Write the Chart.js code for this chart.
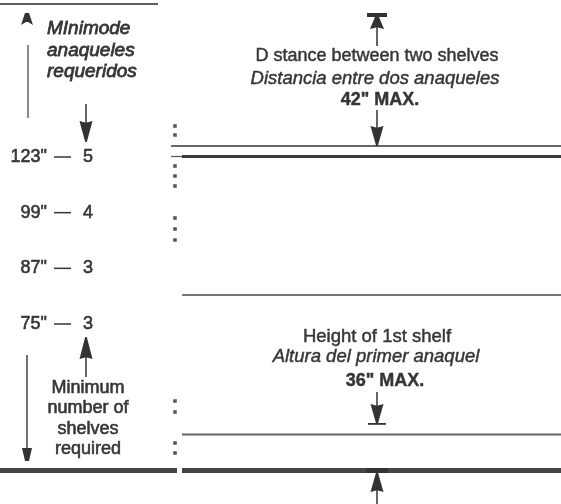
<!DOCTYPE html>
<html>
<head>
<meta charset="utf-8">
<script src="https://cdn.jsdelivr.net/npm/chart.js@4/dist/chart.umd.min.js"></script>
<style>
  html, body { margin: 0; padding: 0; background: #ffffff; }
  #wrap { width: 561px; height: 504px; }
</style>
</head>
<body>
<div id="wrap"><canvas id="c" width="561" height="504"></canvas></div>
<script>
// ---- data ----
const heights = ['123"', '99"', '87"', '75"'];      // ceiling / unit heights
const shelves = [5, 4, 3, 3];                         // minimum shelves required
const spacingLabel = ['D stance between two shelves', 'Distancia entre dos anaqueles', '42" MAX.'];
const firstShelfLabel = ['Height of 1st shelf', 'Altura del primer anaquel', '36" MAX.'];
const titleEs = ['MInimode', 'anaqueles', 'requeridos'];
const titleEn = ['Minimum', 'number of', 'shelves', 'required'];

// ---- layout (diagram units = canvas pixels) ----
const L = {
  W: 561, H: 504,
  rowTop: 157, rowBottom: 324,
  numRight: 47, dashX1: 54, dashX2: 71, digitX: 88,
  ink: '#363636'
};

const rowY = i => L.rowTop + (L.rowBottom - L.rowTop) * i / (heights.length - 1);

function seg(x1, y1, x2, y2, w, c) {
  return { type: 'line', data: [{x: x1, y: y1}, {x: x2, y: y2}], borderColor: c, borderWidth: w,
           pointRadius: 0, showLine: true, fill: false, borderCapStyle: 'butt' };
}

const lineSets = [
  seg(0, 4, 158, 4, 1.5, '#2a2a2a'),          // top-left rule
  seg(28, 45, 28, 118, 1.5, '#666'),          // left vertical (top)
  seg(27, 355, 27, 452, 1.5, '#444'),         // left vertical (bottom)
  seg(171, 146, 561, 146, 1.5, '#333'),       // upper shelf line
  seg(171, 156.5, 182, 156.5, 1.2, '#555'),
  seg(182, 156.5, 561, 156.5, 3, '#3a3a3a'),  // shelf
  seg(182, 295, 561, 295, 2, '#777'),
  seg(182, 434.5, 561, 434.5, 2, '#666'),     // first shelf
  seg(0, 470.5, 177, 470.5, 5, '#444'),       // floor
  seg(182, 470.5, 561, 470.5, 5, '#444')
];

const dotYs = [126, 135, 166, 176, 186, 218, 229, 240, 401, 412, 443, 453];
const dotSet = { type: 'scatter', data: dotYs.map(y => ({x: 175, y: y})),
  pointStyle: 'rect', pointRadius: 2.5, backgroundColor: '#555', borderWidth: 0 };

function arrowHead(ctx, x, tipY, baseY, halfW) {
  const dir = tipY > baseY ? 1 : -1;
  ctx.beginPath();
  ctx.moveTo(x - 0.8, tipY);
  ctx.lineTo(x + 0.8, tipY);
  ctx.lineTo(x + halfW, baseY);
  ctx.lineTo(x + 1, baseY + dir * 1.5);
  ctx.lineTo(x - 1, baseY + dir * 1.5);
  ctx.lineTo(x - halfW, baseY);
  ctx.closePath();
  ctx.fill();
}

function txt(ctx, s, x, y) {
  ctx.fillText(s, x, y);
  ctx.strokeText(s, x, y);
}

const drawPlugin = {
  id: 'diagram',
  afterDatasetsDraw(chart) {
    const ctx = chart.ctx, xs = chart.scales.x, ys = chart.scales.y;
    const X = v => xs.getPixelForValue(v), Y = v => ys.getPixelForValue(v);
    ctx.save();
    ctx.fillStyle = L.ink; ctx.strokeStyle = L.ink;
    ctx.textBaseline = 'middle';
    ctx.lineJoin = 'round';

    // Spanish title (top-left)
    ctx.lineWidth = 0.8;
    ctx.font = 'italic 19px "Liberation Sans", Arial, sans-serif';
    ctx.textAlign = 'left';
    titleEs.forEach((t, i) => txt(ctx, t, X(47), Y(29 + i * 21.5)));

    // table rows
    ctx.lineWidth = 0.6;
    ctx.font = '18px "Liberation Sans", Arial, sans-serif';
    heights.forEach((h, i) => {
      const y = Y(rowY(i));
      ctx.textAlign = 'right'; txt(ctx, h, X(L.numRight), y);
      ctx.textAlign = 'center'; txt(ctx, String(shelves[i]), X(L.digitX), y);
      ctx.save(); ctx.lineWidth = 1.5;
      ctx.beginPath(); ctx.moveTo(X(L.dashX1), y); ctx.lineTo(X(L.dashX2), y); ctx.stroke();
      ctx.restore();
    });

    // English caption (bottom-left)
    ctx.lineWidth = 0.6;
    ctx.font = '18px "Liberation Sans", Arial, sans-serif';
    ctx.textAlign = 'center';
    titleEn.forEach((t, i) => txt(ctx, t, X(88), Y(388 + i * 20.3)));

    // right-hand captions
    ctx.lineWidth = 0.45;
    ctx.font = '18px "Liberation Sans", Arial, sans-serif';
    txt(ctx, spacingLabel[0], X(377), Y(56));
    ctx.font = 'italic 18.5px "Liberation Sans", Arial, sans-serif';
    txt(ctx, spacingLabel[1], X(375), Y(79));
    ctx.font = 'bold 18px "Liberation Sans", Arial, sans-serif';
    txt(ctx, spacingLabel[2], X(380), Y(100));

    ctx.font = '18.5px "Liberation Sans", Arial, sans-serif';
    txt(ctx, firstShelfLabel[0], X(377), Y(337));
    ctx.font = 'italic 18.5px "Liberation Sans", Arial, sans-serif';
    txt(ctx, firstShelfLabel[1], X(376), Y(357));
    ctx.font = 'bold 18px "Liberation Sans", Arial, sans-serif';
    txt(ctx, firstShelfLabel[2], X(385), Y(381));

    // arrows
    ctx.fillStyle = '#333'; ctx.strokeStyle = '#333'; ctx.lineWidth = 1.5;
    // top-left small up arrowhead (blunt)
    ctx.beginPath();
    ctx.moveTo(X(25), Y(13)); ctx.lineTo(X(29), Y(13));
    ctx.lineTo(X(33), Y(25)); ctx.lineTo(X(28), Y(22)); ctx.lineTo(X(26), Y(22));
    ctx.lineTo(X(21), Y(25)); ctx.closePath(); ctx.fill();
    // down arrow to first row
    ctx.beginPath(); ctx.moveTo(X(86), Y(104)); ctx.lineTo(X(86), Y(125)); ctx.stroke();
    arrowHead(ctx, X(86), Y(142), Y(121), 6.5);
    // up arrow from caption
    ctx.beginPath(); ctx.moveTo(X(86), Y(377)); ctx.lineTo(X(86), Y(355)); ctx.stroke();
    arrowHead(ctx, X(86), Y(337), Y(359), 6.5);
    // left bottom down arrowhead (blunt)
    ctx.beginPath();
    ctx.moveTo(X(22), Y(448)); ctx.lineTo(X(32), Y(448));
    ctx.lineTo(X(29), Y(461)); ctx.lineTo(X(25), Y(461)); ctx.closePath(); ctx.fill();

    // top-right: bar + up arrow
    ctx.fillRect(X(367), Y(13), 20, 4);
    arrowHead(ctx, X(377), Y(14), Y(29), 7);
    ctx.beginPath(); ctx.moveTo(X(377), Y(26)); ctx.lineTo(X(377), Y(46)); ctx.stroke();
    // down arrow onto the upper shelf
    ctx.beginPath(); ctx.moveTo(X(377), Y(110)); ctx.lineTo(X(377), Y(130)); ctx.stroke();
    arrowHead(ctx, X(377), Y(146), Y(126), 6.5);
    // down arrow onto first shelf with bar
    ctx.beginPath(); ctx.moveTo(X(377), Y(392)); ctx.lineTo(X(377), Y(408)); ctx.stroke();
    arrowHead(ctx, X(377), Y(424), Y(404), 6.5);
    ctx.fillRect(X(368), Y(423), 18, 1.8);
    // up arrow from below the floor
    ctx.fillRect(X(366), Y(468), 22, 5);
    arrowHead(ctx, X(377), Y(472), Y(492), 6.5);
    ctx.beginPath(); ctx.moveTo(X(377), Y(488)); ctx.lineTo(X(377), Y(504)); ctx.stroke();

    ctx.restore();
  }
};

new Chart(document.getElementById('c'), {
  type: 'scatter',
  data: { datasets: [...lineSets, dotSet] },
  options: {
    responsive: false,
    animation: false,
    devicePixelRatio: 1,
    layout: { padding: 0, autoPadding: false },
    plugins: { legend: { display: false }, tooltip: { enabled: false } },
    events: [],
    scales: {
      x: { type: 'linear', min: 0, max: L.W, display: false },
      y: { type: 'linear', min: 0, max: L.H, reverse: true, display: false }
    }
  },
  plugins: [drawPlugin]
});
</script>
</body>
</html>
